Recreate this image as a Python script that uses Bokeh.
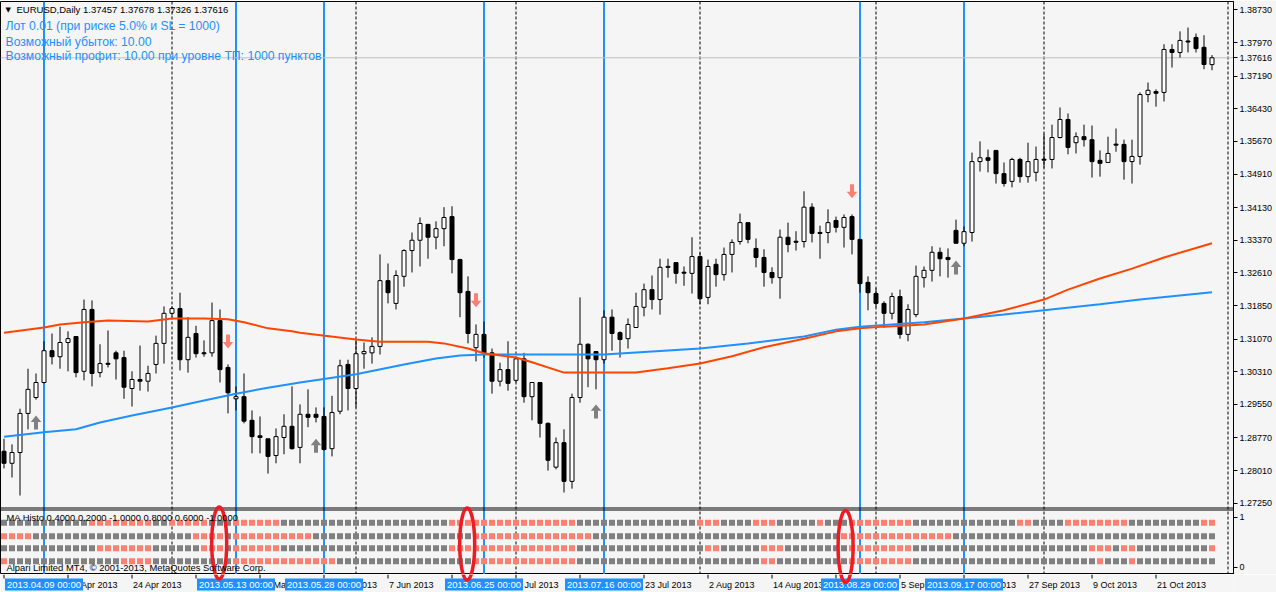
from bokeh.plotting import figure
from bokeh.layouts import column
from bokeh.models import Range1d, FixedTicker, PrintfTickFormatter, Span, Label, ColumnDataSource
from bokeh.core.properties import value
from bokeh.embed import file_html
from bokeh.resources import INLINE

# ---------------- texts ----------------
header_text = "EURUSD,Daily  1.37457 1.37678 1.37326 1.37616"
info_lines = ["Лот 0.01 (при риске 5.0% и SL = 1000)",
              "Возможный убыток: 10.00",
              "Возможный профит: 10.00 при уровне ТП: 1000 пунктов"]
indicator_caption = "MA Histo 0.4000 0.2000 -1.0000 0.8000 0.6000 -1.0000"
copyright_text = "Alpari Limited MT4, \u00a9 2001-2013, MetaQuotes Software Corp."

# ---------------- daily candles (bar index 0 = 2 Apr 2013) ----------------
opens = [1.2846,1.2818,1.2843,1.2934,1.2971,1.3006,1.3080,1.3066,1.3099,1.3113,
         1.3032,1.3176,1.3029,1.3050,1.3075,1.3064,1.2992,1.3013,1.3009,1.3048,
         1.3097,1.3167,1.3178,1.3059,1.3120,1.3075,1.3075,1.3150,1.3041,1.2968,
         1.2973,1.2918,1.2882,1.2875,1.2836,1.2878,1.2904,1.2855,1.2932,1.2932,
         1.2927,1.2852,1.2939,1.3048,1.2992,1.3073,1.3075,1.3090,1.3243,1.3190,
         1.3253,1.3313,1.3337,1.3374,1.3344,1.3364,1.3392,1.3292,1.3218,1.3087,
         1.3118,1.3075,1.3009,1.3036,1.3011,1.3061,1.2973,1.3006,1.2911,1.2809,
         1.2866,1.2776,1.2971,1.3095,1.3078,1.3059,1.3158,1.3122,1.3108,1.3134,
         1.3181,1.3222,1.3199,1.3274,1.3285,1.3262,1.3260,1.3299,1.3204,1.3281,
         1.3257,1.3304,1.3334,1.3378,1.3318,1.3297,1.3262,1.3250,1.3344,1.3334,
         1.3334,1.3414,1.3355,1.3355,1.3383,1.3367,1.3392,1.3339,1.3239,1.3213,
         1.3190,1.3167,1.3206,1.3118,1.3164,1.3250,1.3267,1.3309,1.3297,1.3360,
         1.3330,1.3355,1.3520,1.3529,1.3546,1.3492,1.3474,1.3525,1.3485,1.3495,
         1.3525,1.3525,1.3576,1.3618,1.3564,1.3578,1.3571,1.3523,1.3518,1.3560,
         1.3560,1.3520,1.3532,1.3676,1.3683,1.3681,1.3781,1.3774,1.3800,1.3809,
         1.3786,1.37457]
highs = [1.2875,1.2862,1.2945,1.3038,1.3027,1.3102,1.3120,1.3136,1.3125,1.3113,
         1.3199,1.3197,1.3095,1.3127,1.3080,1.3080,1.3032,1.3092,1.3045,1.3115,
         1.3183,1.3183,1.3215,1.3158,1.3138,1.3104,1.3192,1.3176,1.3048,1.2997,
         1.3027,1.2941,1.2927,1.2875,1.2899,1.2932,1.2997,1.2955,1.2990,1.2948,
         1.2948,1.2975,1.3059,1.3059,1.3106,1.3099,1.3111,1.3304,1.3283,1.3267,
         1.3316,1.3355,1.3390,1.3374,1.3381,1.3414,1.3416,1.3294,1.3253,1.3141,
         1.3148,1.3085,1.3052,1.3102,1.3066,1.3075,1.3006,1.3006,1.2913,1.2878,
         1.2897,1.2980,1.3204,1.3097,1.3078,1.3174,1.3176,1.3125,1.3155,1.3215,
         1.3236,1.3255,1.3294,1.3294,1.3285,1.3276,1.3344,1.3308,1.3292,1.3294,
         1.3320,1.3339,1.3399,1.3378,1.3341,1.3316,1.3274,1.3362,1.3378,1.3358,
         1.3451,1.3423,1.3371,1.3409,1.3392,1.3397,1.3397,1.3339,1.3253,1.3225,
         1.3195,1.3215,1.3222,1.3188,1.3278,1.3276,1.3323,1.3320,1.3318,1.3385,
         1.3369,1.3541,1.3567,1.3548,1.3546,1.3518,1.3529,1.3529,1.3564,1.3555,
         1.3585,1.3606,1.3646,1.3632,1.3588,1.3606,1.3604,1.3546,1.3578,1.3597,
         1.3571,1.3571,1.3681,1.3704,1.3688,1.3793,1.3793,1.3823,1.3832,1.3818,
         1.3814,1.37678]
lows = [1.2806,1.2785,1.2743,1.2897,1.2966,1.3004,1.3048,1.3038,1.3032,1.3018,
        1.3011,1.2997,1.3018,1.3041,1.3013,1.2968,1.2950,1.2987,1.2985,1.3027,
        1.3050,1.3158,1.3034,1.3029,1.3064,1.3066,1.3066,1.3006,1.2934,1.2941,
        1.2911,1.2841,1.2841,1.2794,1.2818,1.2839,1.2850,1.2818,1.2902,1.2913,
        1.2848,1.2834,1.2932,1.2941,1.2948,1.3038,1.3050,1.3071,1.3190,1.3176,
        1.3229,1.3262,1.3276,1.3294,1.3316,1.3323,1.3260,1.3158,1.3097,1.3055,
        1.3064,1.2980,1.2997,1.2987,1.3006,1.2959,1.2918,1.2878,1.2801,1.2804,
        1.2750,1.2759,1.2959,1.2995,1.2990,1.3050,1.3080,1.3064,1.3085,1.3134,
        1.3160,1.3176,1.3164,1.3250,1.3236,1.3231,1.3213,1.3188,1.3188,1.3229,
        1.3243,1.3262,1.3327,1.3330,1.3274,1.3229,1.3236,1.3201,1.3309,1.3313,
        1.3320,1.3332,1.3294,1.3330,1.3355,1.3320,1.3304,1.3215,1.3174,1.3181,
        1.3134,1.3153,1.3108,1.3102,1.3158,1.3227,1.3241,1.3253,1.3250,1.3330,
        1.3323,1.3334,1.3497,1.3495,1.3469,1.3462,1.3460,1.3471,1.3471,1.3474,
        1.3506,1.3504,1.3574,1.3537,1.3539,1.3555,1.3483,1.3485,1.3518,1.3543,
        1.3478,1.3469,1.3513,1.3658,1.3648,1.3660,1.3739,1.3762,1.3774,1.3774,
        1.3735,1.37326]
closes = [1.2818,1.2843,1.2934,1.2990,1.3006,1.3080,1.3066,1.3099,1.3108,1.3029,
          1.3176,1.3027,1.3050,1.3049,1.3061,1.2995,1.3013,1.3009,1.3027,1.3097,
          1.3167,1.3178,1.3059,1.3111,1.3073,1.3073,1.3150,1.3036,1.2982,1.2973,
          1.2916,1.2880,1.2878,1.2834,1.2880,1.2904,1.2852,1.2932,1.2925,1.2925,
          1.2850,1.2936,1.3045,1.2992,1.3073,1.3078,1.3090,1.3243,1.3215,1.3255,
          1.3313,1.3337,1.3376,1.3344,1.3364,1.3390,1.3292,1.3215,1.3120,1.3118,
          1.3075,1.3009,1.3036,1.3004,1.3061,1.2973,1.3006,1.2911,1.2825,1.2866,
          1.2776,1.2971,1.3095,1.3061,1.3059,1.3158,1.3120,1.3106,1.3141,1.3183,
          1.3222,1.3199,1.3274,1.3276,1.3260,1.3261,1.3299,1.3201,1.3276,1.3257,
          1.3304,1.3332,1.3378,1.3339,1.3297,1.3262,1.3250,1.3344,1.3327,1.3333,
          1.3414,1.3353,1.3353,1.3378,1.3367,1.3390,1.3339,1.3236,1.3215,1.3190,
          1.3167,1.3206,1.3118,1.3176,1.3253,1.3267,1.3309,1.3294,1.3292,1.3330,
          1.3357,1.3520,1.3529,1.3523,1.3492,1.3469,1.3525,1.3485,1.3520,1.3525,
          1.3524,1.3576,1.3618,1.3553,1.3578,1.3571,1.3520,1.3516,1.3539,1.3559,
          1.3520,1.3532,1.3676,1.3686,1.3679,1.3781,1.3774,1.3802,1.3799,1.3783,
          1.3746,1.37616]
last_price = 1.37616

# ---------------- moving averages (read at sampled bars) ----------------
ma_red_idx = [0,5,7,10,13,18,21,25,28,30,33,36,37,44,47,53,55,58,60,64,66,70,75,79,
              83,87,91,95,100,104,107,110,115,120,125,130,133,137,141,145,151]
ma_red_val = [1.3122,1.3134,1.3141,1.3146,1.3150,1.3148,1.3155,1.3155,1.3153,1.3146,
              1.3132,1.3125,1.3122,1.3106,1.3101,1.3101,1.3097,1.3085,1.3074,1.3064,
              1.3053,1.3029,1.3029,1.3029,1.3039,1.3050,1.3067,1.3088,1.3108,1.3125,
              1.3132,1.3136,1.3141,1.3155,1.3174,1.3199,1.3222,1.3248,1.3271,1.3297,1.3330]
ma_blue_idx = [0,5,9,12,16,21,25,29,33,37,44,50,54,57,60,72,75,79,87,93,100,104,107,
               115,120,125,130,137,142,151]
ma_blue_val = [1.2880,1.2890,1.2897,1.2913,1.2929,1.2948,1.2964,1.2980,1.2994,1.3006,
               1.3025,1.3048,1.3062,1.3069,1.3071,1.3071,1.3071,1.3076,1.3085,1.3097,
               1.3113,1.3129,1.3136,1.3146,1.3155,1.3164,1.3174,1.3188,1.3199,1.3216]

# ---------------- signal arrows ----------------
up_idx = [4, 39, 74, 119]
up_price = [1.2929, 1.2875, 1.2955, 1.3290]
down_idx = [28, 59, 106]
down_price = [1.3085, 1.3181, 1.3435]

# ---------------- vertical lines ----------------
blue_line_idx = [5, 29, 40, 60, 75, 107, 120]
blue_line_labels = ["2013.04.09 00:00", "2013.05.13 00:00", "2013.05.28 00:00",
                    "2013.06.25 00:00", "2013.07.16 00:00", "2013.08.29 00:00",
                    "2013.09.17 00:00"]
month_start_idx = [21, 44, 64, 87, 109, 130, 153]

# ---------------- axes ----------------
price_ticks = [1.38730, 1.37970, 1.37190, 1.36430, 1.35670, 1.34910, 1.34130, 1.33370,
               1.32610, 1.31850, 1.31070, 1.30310, 1.29550, 1.28770, 1.28010, 1.27250]
date_tick_idx = [0, 8, 16, 24, 32, 40, 48, 56, 64, 72, 80, 88, 96, 104, 112, 120, 128, 136, 144]
date_tick_labels = ["2 Apr 2013", "12 Apr 2013", "24 Apr 2013", "6 May 2013", "16 May 2013",
                    "28 May 2013", "7 Jun 2013", "19 Jun 2013", "1 Jul 2013", "11 Jul 2013",
                    "23 Jul 2013", "2 Aug 2013", "14 Aug 2013", "26 Aug 2013", "5 Sep 2013",
                    "17 Sep 2013", "27 Sep 2013", "9 Oct 2013", "21 Oct 2013"]

# ---------------- MA Histo rows (bar ranges shown in salmon, rest grey) ----------------
row_levels = [0.889, 0.622, 0.383, 0.125]
row_salmon_ranges = [
    [(11, 18), (21, 25), (29, 34), (56, 71), (87, 89), (94, 96), (102, 102), (106, 113),
     (127, 128), (133, 140), (150, 151)],
    [(0, 3), (24, 27), (29, 38), (59, 73), (105, 118)],
    [(12, 18), (25, 27), (29, 34), (56, 71), (88, 89), (95, 97), (106, 113), (136, 138),
     (140, 141), (151, 151)],
    [(0, 0), (15, 18), (29, 41), (59, 71), (95, 96), (106, 113), (137, 137), (141, 141)],
]
ellipse_idx = [26.9, 57.9, 105.2]
ellipse_level = [0.487, 0.467, 0.417]

# ================= drawing =================
BG = "#F5F5F5"
FONT = "Liberation Sans"
BLUE = "#1E90FF"
N = len(opens)
idx = list(range(N))
X0, X1 = -0.4375, 153.6875
Y0, Y1 = 1.255920, 1.389257
PX = (Y1 - Y0) / 573       # price per pixel
HIST_PX = 50.3             # pixels per indicator unit
HIST_ZERO_OFF = 7          # indicator zero sits 7 px above the window bottom

p = figure(frame_width=1233, frame_height=573,
           x_range=Range1d(X0, X1), y_range=Range1d(Y0, Y1),
           output_backend="svg", toolbar_location=None, y_axis_location="right",
           x_axis_location=None,
           min_border_left=0, min_border_top=1, min_border_right=43, min_border_bottom=0,
           background_fill_color=BG, border_fill_color=BG,
           outline_line_color="black", outline_line_width=1)
p.grid.visible = False
p.extra_y_ranges = {"hist": Range1d(-HIST_ZERO_OFF / HIST_PX, (573 - HIST_ZERO_OFF) / HIST_PX)}

# price scale
yax = p.yaxis[0]
yax.ticker = FixedTicker(ticks=price_ticks + [last_price, 1.26925, 1.25755])
yax.formatter = PrintfTickFormatter(format="%.5f")
yax.major_label_overrides = {1.26925: "1", 1.25755: "0"}
yax.major_label_text_font = FONT
yax.major_label_text_font_size = "9px"
yax.major_label_text_color = "black"
yax.axis_line_color = "black"
yax.major_tick_line_color = "black"
yax.major_tick_out = 4
yax.major_tick_in = 0
yax.minor_tick_line_color = None
yax.major_label_standoff = 2

# vertical / horizontal reference lines
nm = len(month_start_idx)
p.segment(x0=month_start_idx, y0=[Y0] * nm, x1=month_start_idx, y1=[Y1] * nm,
          line_color="black", line_dash="3 2", line_width=1, level="underlay")
for i in blue_line_idx:
    p.add_layout(Span(location=i, dimension="height", line_color=BLUE,
                      line_width=2, level="underlay"))
p.add_layout(Span(location=last_price, dimension="width", line_color="#C0C0C0",
                  line_width=1, level="underlay"))
# window separator: main chart bottom border and indicator window top border
sep = [Y1 - 506.5 * PX, Y1 - 508.5 * PX]
p.segment(x0=[X0, X0], y0=sep, x1=[X1, X1], y1=sep, line_color="black", line_width=1)

# candles
tops, bottoms, fills = [], [], []
for o, c in zip(opens, closes):
    t, b = max(o, c), min(o, c)
    if t - b < 0.00023:
        m = (t + b) / 2
        t, b = m + 0.000115, m - 0.000115
    tops.append(t)
    bottoms.append(b)
    fills.append("white" if c >= o else "black")
src = ColumnDataSource(dict(x=idx, h=highs, l=lows, top=tops, bottom=bottoms, fill=fills))
p.segment(x0="x", y0="l", x1="x", y1="h", source=src, line_color="black", line_width=1)
p.vbar(x="x", width=0.5, top="top", bottom="bottom", source=src,
       fill_color="fill", line_color="black", line_width=1)

# moving averages
p.line(ma_blue_idx, ma_blue_val, line_color=BLUE, line_width=2)
p.line(ma_red_idx, ma_red_val, line_color="#FF4500", line_width=2)

# arrows
HEAD, LEN, HW, SW = 0.0015, 0.00326, 0.66, 0.25
xs, ys = [], []
for i, pr in zip(up_idx, up_price):
    xs.append([i, i + HW, i + SW, i + SW, i - SW, i - SW, i - HW])
    ys.append([pr, pr - HEAD, pr - HEAD, pr - LEN, pr - LEN, pr - HEAD, pr - HEAD])
p.patches(xs, ys, fill_color="#808080", line_color=None)
xs, ys = [], []
for i, pr in zip(down_idx, down_price):
    xs.append([i, i + HW, i + SW, i + SW, i - SW, i - SW, i - HW])
    ys.append([pr, pr + HEAD, pr + HEAD, pr + LEN, pr + LEN, pr + HEAD, pr + HEAD])
p.patches(xs, ys, fill_color="#FA8072", line_color=None)

# MA Histo rows
hx, hy, hc = [], [], []
for lvl, ranges in zip(row_levels, row_salmon_ranges):
    flags = [False] * N
    for a, b in ranges:
        for k in range(a, b + 1):
            flags[k] = True
    for k in range(N):
        hx.append(k)
        hy.append(lvl)
        hc.append("#FA8072" if flags[k] else "#808080")
p.scatter(hx, hy, marker="square", size=6, fill_color=hc, line_color=None,
          y_range_name="hist")

# hand drawn red ellipses
ELL = dict(width=15, height=72, width_units="screen", height_units="screen",
           fill_color=None, line_color="#ED1C24", line_width=3.5)
p.ellipse(x=ellipse_idx, y=ellipse_level, y_range_name="hist", **ELL)

# texts
p.add_layout(Label(x=5, y=565, x_units="screen", y_units="screen", text="\u25bc",
                   text_font="DejaVu Sans", text_font_size="7px", text_color="black",
                   text_baseline="middle"))
p.add_layout(Label(x=16, y=565, x_units="screen", y_units="screen", text=header_text,
                   text_font=FONT, text_font_size="9.5px", text_color="black",
                   text_baseline="middle"))
for t, yy in zip(info_lines, [549, 533, 518.5]):
    p.add_layout(Label(x=5, y=yy, x_units="screen", y_units="screen", text=t,
                       text_font=FONT, text_font_size="12.2px", text_color=BLUE,
                       text_baseline="middle"))
p.add_layout(Label(x=6, y=57, x_units="screen", y_units="screen", text=indicator_caption,
                   text_font=FONT, text_font_size="9.4px", text_color="black",
                   text_baseline="middle"))
p.add_layout(Label(x=6, y=7, x_units="screen", y_units="screen", text=copyright_text,
                   text_font=FONT, text_font_size="9.4px", text_color="black",
                   text_baseline="middle"))

# ---------------- time scale strip (shares the bar-index x range) ----------------
b = figure(frame_width=1233, frame_height=18, x_range=p.x_range, y_range=Range1d(18, 0),
           output_backend="svg", toolbar_location=None,
           x_axis_location=None, y_axis_location=None,
           min_border_left=0, min_border_top=0, min_border_right=43, min_border_bottom=0,
           background_fill_color=BG, border_fill_color=BG, outline_line_color=None)
b.grid.visible = False
nt = len(date_tick_idx)
b.segment(x0=date_tick_idx, y0=[0] * nt, x1=date_tick_idx, y1=[4] * nt,
          line_color="black", line_width=1)
b.text(x=date_tick_idx, y=[10] * nt, text=date_tick_labels, x_offset=1,
       text_font=value(FONT), text_font_size="9px", text_color="black",
       text_align="left", text_baseline="middle")
nb = len(blue_line_idx)
b.rect(x=blue_line_idx, y=[10] * nb, width=78, height=12, width_units="screen",
       height_units="screen", fill_color=BLUE, line_color=None)
b.text(x=blue_line_idx, y=[10] * nb, text=blue_line_labels,
       text_font=value(FONT), text_font_size="9.5px", text_color="white",
       text_align="center", text_baseline="middle")
# lower ends of the red ellipses continue into the time scale strip
b.ellipse(x=ellipse_idx, y=[-HIST_ZERO_OFF - HIST_PX * v for v in ellipse_level], **ELL)

layout = column(p, b, spacing=0)
open("out.html", "w").write(file_html(layout, INLINE))
